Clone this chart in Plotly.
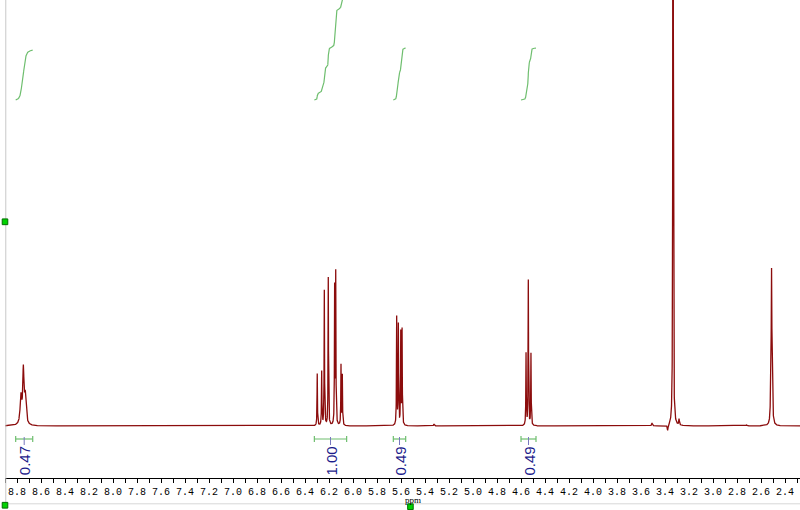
import numpy as np
import plotly.graph_objects as go

# peak list (ppm, height above baseline, half width)
peak_ppm = [8.767, 8.747, 8.731,
            6.298, 6.261, 6.239, 6.206, 6.153, 6.144, 6.100, 6.089,
            5.636, 5.622, 5.602, 5.591,
            5.325,
            4.558, 4.539, 4.517,
            3.508, 3.378, 3.333, 3.283,
            2.720, 2.518, 2.512, 2.506]
peak_height = [28, 52, 28,
               52, 54, 135, 148, 136, 150, 60, 50,
               108, 100, 92, 95,
               2,
               72, 145, 72,
               3, -6, 1500, 6,
               1, 45, 140, 45]
peak_width = [0.008, 0.006, 0.008,
              0.002, 0.002, 0.002, 0.002, 0.002, 0.002, 0.002, 0.002,
              0.002, 0.002, 0.002, 0.002,
              0.004,
              0.002, 0.002, 0.002,
              0.004, 0.004, 0.0015, 0.003,
              0.004, 0.003, 0.003, 0.003]

# integration regions
integral_start = [8.811, 6.322, 5.664, 4.600]
integral_end = [8.669, 6.053, 5.561, 4.475]
integral_value = [0.47, 1.00, 0.49, 0.49]
integral_label = ["0.47", "1.00", "0.49", "0.49"]

red = "rgb(139,12,12)"
green = "rgb(110,190,110)"
navy = "rgb(28,28,140)"

x = np.arange(8.9, 2.27, -0.0005)
y = np.zeros_like(x)
for p, h, w in zip(peak_ppm, peak_height, peak_width):
    y += h / (1 + ((x - p) / w) ** 2)

fig = go.Figure()
fig.add_trace(go.Scatter(x=x, y=y, mode="lines", line=dict(color=red, width=1.3),
                         hoverinfo="skip"))

# integral curves, brackets, labels
for s, e, v, lab in zip(integral_start, integral_end, integral_value, integral_label):
    m = (x <= s) & (x >= e)
    c = np.cumsum(y[m])
    c = c / c[-1] * v * 106 + 326
    fig.add_trace(go.Scatter(x=x[m], y=c, mode="lines", line=dict(color=green, width=1.2),
                             hoverinfo="skip"))
    fig.add_trace(go.Scatter(x=[s, s, None, s, e, None, e, e], y=[-10, -16, None, -13, -13, None, -10, -16],
                             mode="lines", line=dict(color=green, width=1.2), hoverinfo="skip"))
    mid = (s + e) / 2
    fig.add_trace(go.Scatter(x=[mid, mid], y=[-11, -19], mode="lines",
                             line=dict(color="rgb(120,120,190)", width=1), hoverinfo="skip"))
    fig.add_annotation(x=mid, y=-35, text=lab, showarrow=False, textangle=-90,
                       font=dict(family="Liberation Sans", size=15, color=navy),
                       xanchor="center", yanchor="middle")

fig.add_annotation(xref="paper", yref="paper", x=0.513, y=-0.047, text="ppm", showarrow=False,
                   font=dict(family="Liberation Serif", size=9, color="black"),
                   xanchor="center", yanchor="middle")

shapes = [
    dict(type="line", xref="paper", yref="paper", x0=0.001, x1=0.001, y0=1, y1=-0.052,
         line=dict(color="rgb(200,200,200)", width=1)),
    dict(type="line", xref="paper", yref="paper", x0=0, x1=1, y0=-0.054, y1=-0.054,
         line=dict(color="rgb(215,215,215)", width=1)),
]
for px_, py_ in [(0.0, 0.536), (0.0, -0.057), (0.51, -0.060)]:
    shapes.append(dict(type="rect", xref="paper", yref="paper",
                       x0=px_ - 0.0035, x1=px_ + 0.0035, y0=py_ - 0.006, y1=py_ + 0.006,
                       fillcolor="rgb(0,210,0)", line=dict(color="rgb(0,110,0)", width=1)))

fig.update_layout(
    width=800, height=510,
    margin=dict(l=5, r=0, t=0, b=32),
    plot_bgcolor="white", paper_bgcolor="white",
    showlegend=False,
    shapes=shapes,
    xaxis=dict(range=[8.9, 2.275], dtick=0.2, tick0=0, tickformat=".1f",
               showline=True, linecolor="black", linewidth=1,
               ticks="outside", ticklen=4, tickcolor="black",
               minor=dict(dtick=0.1, ticks="outside", ticklen=4, tickcolor="black"),
               showgrid=False, zeroline=False,
               tickfont=dict(family="Liberation Mono", size=10, color="black")),
    yaxis=dict(range=[-52, 426], visible=False, showgrid=False, zeroline=False),
)

fig.write_html("out.html", config={"displayModeBar": False},
               post_script="document.body.style.margin='0';")
